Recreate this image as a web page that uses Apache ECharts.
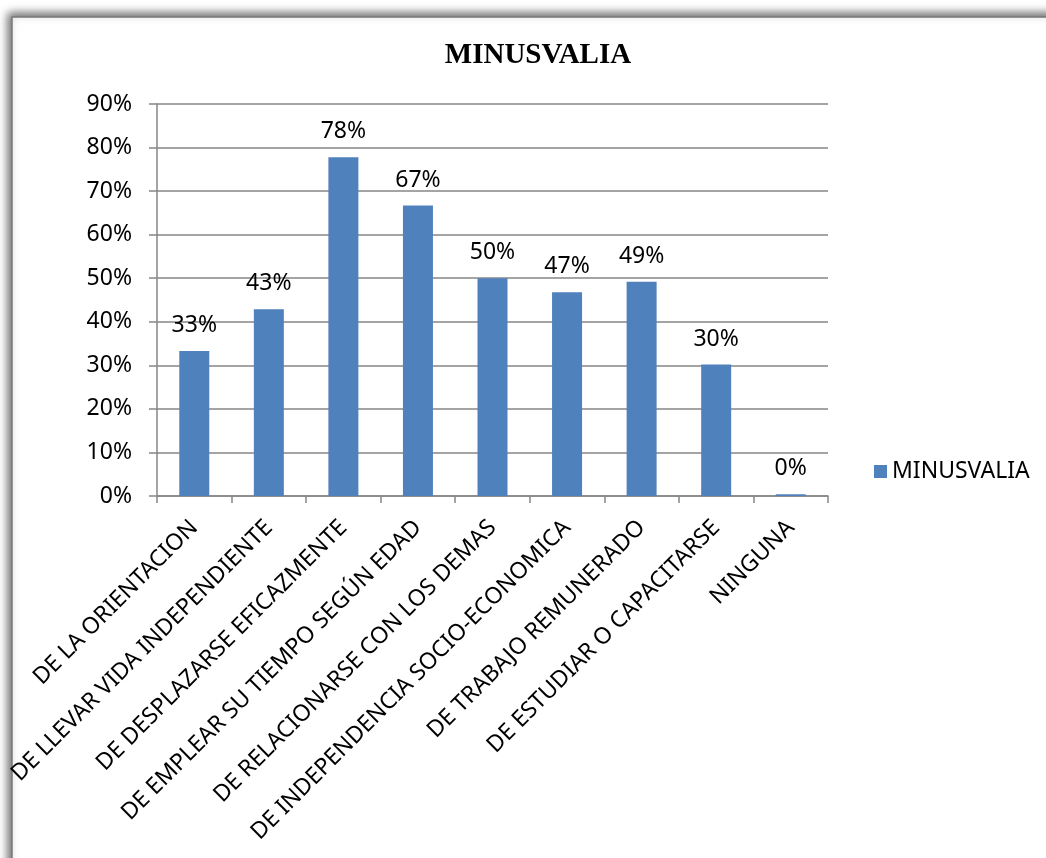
<!DOCTYPE html>
<html>
<head>
<meta charset="utf-8">
<script src="https://cdn.jsdelivr.net/npm/echarts@6/dist/echarts.min.js"></script>
<style>
html,body{margin:0;padding:0;background:#fff;}
#c{width:1046px;height:858px;}
</style>
</head>
<body>
<div id="c"></div>
<script>
var titleText = 'MINUSVALIA';
var seriesName = 'MINUSVALIA';
var categories = [
  'DE LA ORIENTACION',
  'DE LLEVAR VIDA INDEPENDIENTE',
  'DE DESPLAZARSE EFICAZMENTE',
  'DE EMPLEAR SU TIEMPO SEGÚN EDAD',
  'DE RELACIONARSE CON LOS DEMAS',
  'DE INDEPENDENCIA SOCIO-ECONOMICA',
  'DE TRABAJO REMUNERADO',
  'DE ESTUDIAR O CAPACITARSE',
  'NINGUNA'
];
var values = [33.3, 42.9, 77.8, 66.7, 50.0, 46.8, 49.2, 30.2, 0.4];
var yMin = 0, yMax = 90, yStep = 10;

var chart = echarts.init(document.getElementById('c'), null, {renderer:'canvas'});
var font = '"Noto Sans", "Open Sans", sans-serif';
chart.setOption({
  animation: false,
  backgroundColor: '#ffffff',
  graphic: [{
    type: 'rect',
    z: -10,
    shape: {x: 12, y: 17, width: 1200, height: 1000},
    style: {fill: '#ffffff', stroke: '#7a7a7a', lineWidth: 1.5,
      shadowBlur: 9, shadowColor: 'rgba(0,0,0,0.6)', shadowOffsetX: -3, shadowOffsetY: -3}
  }],
  title: {
    text: titleText,
    left: 533, top: 36, textAlign: 'center',
    textStyle: {fontFamily: '"Liberation Serif", "Times New Roman", serif', fontWeight: 'bold', fontSize: 29, color: '#000'}
  },
  legend: {
    data: [seriesName],
    left: 869, top: 455,
    icon: 'rect', itemWidth: 13, itemHeight: 13, itemGap: 8,
    textStyle: {fontFamily: font, fontSize: 23, color: '#000'}
  },
  grid: {left: 157, right: 218, top: 104, bottom: 362, containLabel: false},
  xAxis: {
    type: 'category',
    data: categories,
    boundaryGap: true,
    axisLine: {lineStyle: {color: '#868686', width: 1.5}},
    axisTick: {show: true, alignWithLabel: false, length: 7, lineStyle: {color: '#868686', width: 1.5}},
    axisLabel: {interval: 0, rotate: 45, margin: 28, fontFamily: font, fontSize: 23, color: '#000'}
  },
  yAxis: {
    type: 'value',
    min: yMin, max: yMax, interval: yStep,
    axisLine: {show: true, lineStyle: {color: '#868686', width: 1.5}},
    axisTick: {show: true, length: 8, lineStyle: {color: '#868686', width: 1.5}},
    splitLine: {lineStyle: {color: '#868686', width: 1.5}},
    axisLabel: {formatter: '{value}%', margin: 25, fontFamily: font, fontSize: 23, color: '#000'}
  },
  series: [{
    name: seriesName,
    type: 'bar',
    data: values,
    barWidth: 30,
    itemStyle: {color: '#4F81BD'},
    label: {
      show: true, position: 'top', distance: 14,
      fontFamily: font, fontSize: 23, color: '#000',
      formatter: function(p){ return Math.round(p.value) + '%'; }
    }
  }]
});
</script>
</body>
</html>
